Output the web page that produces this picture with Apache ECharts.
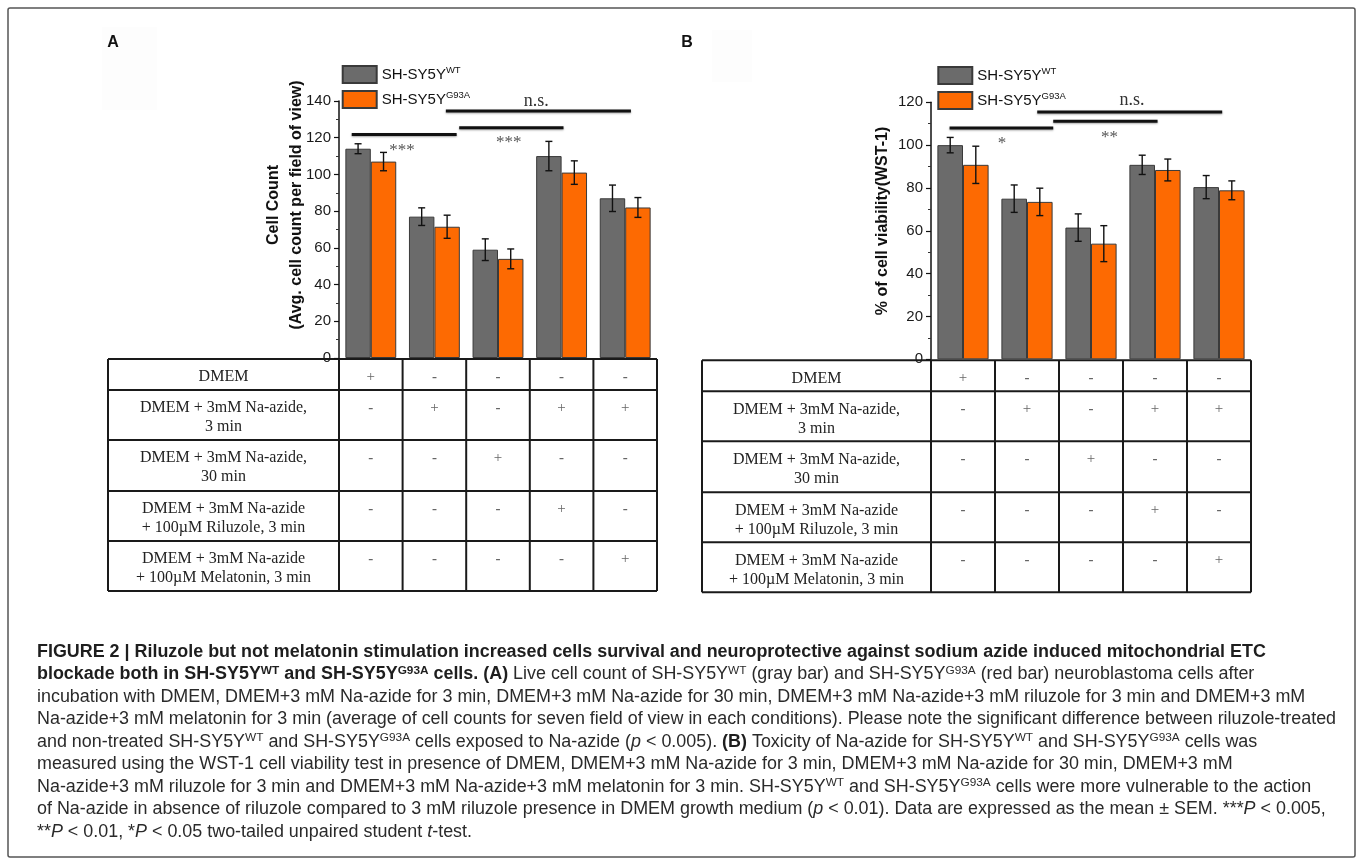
<!DOCTYPE html>
<html><head><meta charset="utf-8">
<script src="https://cdn.jsdelivr.net/npm/echarts@6.0.0/dist/echarts.min.js"></script>
<style>html,body{margin:0;padding:0;background:#fff}#c{width:1357px;height:866px}</style>
</head><body><div id="c"></div>
<script>
// ---------- data ----------
const categories = ['DMEM', 'Na-azide 3 min', 'Na-azide 30 min', 'Na-azide + Riluzole', 'Na-azide + Melatonin'];
const seriesNames = ['SH-SY5Y WT', 'SH-SY5Y G93A'];
const seriesSup = ['WT', 'G93A'];
const cellCountWT = [114, 77, 59, 110, 87];
const cellCountWTErr = [2.7, 4.8, 5.9, 8, 7.2];
const cellCountG93A = [107, 71.5, 54, 101, 82];
const cellCountG93AErr = [5, 6.3, 5.4, 6.4, 5.4];
const viabilityWT = [100, 75, 61.5, 90.8, 80.4];
const viabilityWTErr = [3.6, 6.4, 6.4, 4.5, 5.4];
const viabilityG93A = [90.8, 73.5, 54, 88.4, 78.9];
const viabilityG93AErr = [8.7, 6.4, 8.4, 5.1, 4.4];
const yTicksA = [0, 20, 40, 60, 80, 100, 120, 140];
const yTicksB = [0, 20, 40, 60, 80, 100, 120];
// significance bars: [xStart, xEnd, y] in category units / axis units
const sigLinesA = [[-0.30, 1.35, 121.8], [1.39, 3.03, 125.4], [1.18, 4.09, 134.5]];
const sigLabelsA = [[0.49, 115, '***'], [2.17, 119.3, '***'], [2.6, 140, 'n.s.']];
const sigLinesB = [[-0.21, 1.41, 108], [1.41, 3.04, 111.1], [1.16, 4.05, 115.5]];
const sigLabelsB = [[0.61, 102.8, '*'], [2.29, 105.2, '**'], [2.64, 120.8, 'n.s.']];
// condition table
const tableRows = ['DMEM', 'DMEM + 3mM Na-azide,\n3 min', 'DMEM + 3mM Na-azide,\n30 min',
  'DMEM + 3mM Na-azide\n+ 100\u00b5M Riluzole, 3 min', 'DMEM + 3mM Na-azide\n+ 100\u00b5M Melatonin, 3 min'];
const tableMarks = [
  ['+', '-', '-', '-', '-'],
  ['-', '+', '-', '+', '+'],
  ['-', '-', '+', '-', '-'],
  ['-', '-', '-', '+', '-'],
  ['-', '-', '-', '-', '+']
];
const captionLines = [
  '{b|FIGURE 2 | Riluzole but not melatonin stimulation increased cells survival and neuroprotective against sodium azide induced mitochondrial ETC}',
  '{b|blockade both in SH-SY5Y}{bs|WT}{b| and SH-SY5Y}{bs|G93A}{b| cells. (A)}{n| Live cell count of SH-SY5Y}{s|WT}{n| (gray bar) and SH-SY5Y}{s|G93A}{n| (red bar) neuroblastoma cells after}',
  '{n|incubation with DMEM, DMEM+3 mM Na-azide for 3 min, DMEM+3 mM Na-azide for 30 min, DMEM+3 mM Na-azide+3 mM riluzole for 3 min and DMEM+3 mM}',
  '{n|Na-azide+3 mM melatonin for 3 min (average of cell counts for seven field of view in each conditions). Please note the significant difference between riluzole-treated}',
  '{n|and non-treated SH-SY5Y}{s|WT}{n| and SH-SY5Y}{s|G93A}{n| cells exposed to Na-azide (}{i|p}{n| < 0.005). }{b|(B)}{n| Toxicity of Na-azide for SH-SY5Y}{s|WT}{n| and SH-SY5Y}{s|G93A}{n| cells was}',
  '{n|measured using the WST-1 cell viability test in presence of DMEM, DMEM+3 mM Na-azide for 3 min, DMEM+3 mM Na-azide for 30 min, DMEM+3 mM}',
  '{n|Na-azide+3 mM riluzole for 3 min and DMEM+3 mM Na-azide+3 mM melatonin for 3 min. SH-SY5Y}{s|WT}{n| and SH-SY5Y}{s|G93A}{n| cells were more vulnerable to the action}',
  '{n|of Na-azide in absence of riluzole compared to 3 mM riluzole presence in DMEM growth medium (}{i|p}{n| < 0.01). Data are expressed as the mean \u00b1 SEM. ***}{i|P}{n| < 0.005,}',
  '{n|**}{i|P}{n| < 0.01, *}{i|P}{n| < 0.05 two-tailed unpaired student }{i|t}{n|-test.}'
];

// ---------- layout ----------
const SANS = '"Liberation Sans", Arial, Helvetica, sans-serif';
const SERIF = '"Liberation Serif", "Times New Roman", serif';
const gridA = {left: 339, top: 101, width: 318, height: 257};
const gridB = {left: 931, top: 102.3, width: 320, height: 257};
const GRAY = '#6b6b6b', ORANGE = '#fd6a02';

const cv = document.createElement('canvas').getContext('2d');
cv.font = '100px ' + SANS;
const plainL4 = captionLines[3].replace(/\{[a-z]+\||\}/g, '');
const CAPF = Math.max(12, Math.min(18.5, 100 * 1300 / cv.measureText(plainL4).width));

function errorSeries(xi, yi, vals, errs, side) {
  return {
    type: 'custom', xAxisIndex: xi, yAxisIndex: yi, z: 5, silent: true, clip: false,
    data: vals.map((v, i) => [i, v, errs[i]]),
    renderItem(params, api) {
      const i = api.value(0), v = api.value(1), e = api.value(2);
      const band = api.size([1, 0])[0];
      const c = api.coord([i, v]);
      const x = c[0] + side * band * 0.2;
      const yt = api.coord([i, v + e])[1], yb = api.coord([i, v - e])[1];
      const cap = 3.5, st = {stroke: '#111', lineWidth: 1.4};
      return {type: 'group', children: [
        {type: 'line', shape: {x1: x, y1: yt, x2: x, y2: yb}, style: st},
        {type: 'line', shape: {x1: x - cap, y1: yt, x2: x + cap, y2: yt}, style: st},
        {type: 'line', shape: {x1: x - cap, y1: yb, x2: x + cap, y2: yb}, style: st}
      ]};
    }
  };
}
function sigLineSeries(xi, yi, lines) {
  return {
    type: 'custom', xAxisIndex: xi, yAxisIndex: yi, z: 6, silent: true, clip: false,
    data: lines,
    renderItem(params, api) {
      const a = api.coord([api.value(0), api.value(2)]);
      const b = api.coord([api.value(1), api.value(2)]);
      return {type: 'line', shape: {x1: a[0], y1: a[1], x2: b[0], y2: b[1]},
        style: {stroke: '#111', lineWidth: 3, shadowBlur: 2, shadowColor: 'rgba(0,0,0,0.35)', shadowOffsetY: 1}};
    }
  };
}
function sigLabelSeries(xi, yi, labels) {
  return {
    type: 'custom', xAxisIndex: xi, yAxisIndex: yi, z: 6, silent: true, clip: false,
    data: labels.map(l => [l[0], l[1], l[2]]),
    dimensions: ['x', 'y', {name: 't', type: 'ordinal'}],
    renderItem(params, api) {
      const l = labels[params.dataIndex];
      const p = api.coord([l[0], l[1]]);
      const star = l[2].indexOf('*') >= 0;
      return {type: 'text', style: {
        text: l[2], x: p[0], y: p[1] + (star ? 4 : 0), align: 'center', verticalAlign: 'middle',
        font: (star ? '17px ' : '18px ') + SERIF, fill: star ? '#555' : '#333'}};
    }
  };
}
function yAxis(gi, ticks) {
  return {
    type: 'value', gridIndex: gi, min: ticks[0], max: ticks[ticks.length - 1],
    interval: ticks[1] - ticks[0],
    axisLine: {show: true, onZero: false, lineStyle: {color: '#111', width: 1.5}},
    axisTick: {show: true, inside: false, length: 5, lineStyle: {color: '#111', width: 1.2}},
    minorTick: {show: true, splitNumber: 2, length: 3, lineStyle: {color: '#333', width: 1}},
    splitLine: {show: false},
    axisLabel: {fontFamily: SANS, fontSize: 15, color: '#1a1a1a', margin: 8}
  };
}
function catAxis(gi) {
  return {type: 'category', gridIndex: gi, data: categories, boundaryGap: true,
    axisLine: {show: false, onZero: false}, axisTick: {show: false}, axisLabel: {show: false}};
}
function valXAxis(gi) {
  return {type: 'value', gridIndex: gi, min: -0.5, max: 4.5, show: false,
    axisLine: {onZero: false}};
}
function barSeries(xi, yi, name, data, color) {
  return {type: 'bar', name: name, xAxisIndex: xi, yAxisIndex: yi, data: data,
    barGap: '0%', barCategoryGap: '20%', silent: true,
    itemStyle: {color: color, borderColor: '#3a3a3a', borderWidth: 1}};
}
function legend(left, top) {
  return {
    left: left, top: top, orient: 'vertical', padding: 0, itemWidth: 34, itemHeight: 17, itemGap: 6,
    selectedMode: false, icon: 'rect', data: seriesNames,
    formatter: n => '{m|SH-SY5Y}{s|' + seriesSup[seriesNames.indexOf(n)] + '}',
    textStyle: {rich: {
      m: {fontFamily: SANS, fontSize: 15, color: '#111', lineHeight: 18},
      s: {fontFamily: SANS, fontSize: 9.5, color: '#111', lineHeight: 9, verticalAlign: 'top'}
    }}
  };
}
function tableElements(g, labelLeft, top) {
  const els = [];
  const rowOff = [0, 31, 81, 132, 182, 232];
  const band = g.width / 5, right = g.left + g.width;
  const ls = {stroke: '#1a1a1a', lineWidth: 2};
  rowOff.forEach(o => els.push({type: 'line', shape: {x1: labelLeft, y1: top + o, x2: right, y2: top + o}, style: ls}));
  const bottom = top + rowOff[rowOff.length - 1];
  els.push({type: 'line', shape: {x1: labelLeft, y1: top, x2: labelLeft, y2: bottom}, style: ls});
  for (let i = 0; i <= 5; i++) {
    const x = g.left + i * band;
    els.push({type: 'line', shape: {x1: x, y1: top, x2: x, y2: bottom}, style: ls});
  }
  tableRows.forEach((label, r) => {
    const rt = top + rowOff[r];
    els.push({type: 'text', style: {text: label, x: (labelLeft + g.left) / 2, y: rt + 8.5,
      align: 'center', verticalAlign: 'top', lineHeight: 19, font: '16px ' + SERIF, fill: '#222'}});
    tableMarks[r].forEach((m, c) => els.push({type: 'text', style: {text: m, x: g.left + (c + 0.5) * band,
      y: rt + 18, align: 'center', verticalAlign: 'middle', font: (m === '+' ? '15px ' : 'bold 15px ') + SERIF, fill: '#666'}}));
  });
  return els;
}

const capRich = {
  b: {fontFamily: SANS, fontSize: CAPF, fontWeight: 'bold', fill: '#1e1e1e', lineHeight: 20},
  bs: {fontFamily: SANS, fontSize: CAPF * 0.66, fontWeight: 'bold', fill: '#1e1e1e', lineHeight: 11, verticalAlign: 'top'},
  n: {fontFamily: SANS, fontSize: CAPF, fill: '#2a2a2a', lineHeight: 20},
  s: {fontFamily: SANS, fontSize: CAPF * 0.66, fill: '#2a2a2a', lineHeight: 11, verticalAlign: 'top'},
  i: {fontFamily: SANS, fontSize: CAPF, fontStyle: 'italic', fill: '#2a2a2a', lineHeight: 20}
};

const graphics = [
  {type: 'rect', shape: {x: 8, y: 8, width: 1347, height: 849, r: 2}, style: {fill: 'none', stroke: '#555', lineWidth: 1.5}, z: 0},
  {type: 'rect', shape: {x: 102, y: 27, width: 55, height: 83}, style: {fill: '#fdfdfd'}, z: 0},
  {type: 'rect', shape: {x: 712, y: 30, width: 40, height: 52}, style: {fill: '#fdfdfd'}, z: 0},
  {type: 'text', style: {text: 'A', x: 113, y: 43, align: 'center', verticalAlign: 'middle', font: 'bold 16px ' + SANS, fill: '#111'}},
  {type: 'text', style: {text: 'B', x: 687, y: 43, align: 'center', verticalAlign: 'middle', font: 'bold 16px ' + SANS, fill: '#111'}},
  {type: 'text', x: 285.5, y: 205, rotation: Math.PI / 2, style: {text: 'Cell Count\n(Avg. cell count per field of view)',
    x: 0, y: 0, align: 'center', verticalAlign: 'middle', lineHeight: 23, font: 'bold 16px ' + SANS, fill: '#111'}},
  {type: 'text', x: 882.7, y: 221, rotation: Math.PI / 2, style: {text: '% of cell viability(WST-1)',
    x: 0, y: 0, align: 'center', verticalAlign: 'middle', font: 'bold 16px ' + SANS, fill: '#111'}}
].concat(tableElements(gridA, 108, gridA.top + gridA.height + 1))
 .concat(tableElements(gridB, 702, gridB.top + gridB.height + 1))
 .concat(captionLines.map((t, k) => ({type: 'text', style: {text: t, x: 37, y: 652 + 22.5 * k,
   align: 'left', verticalAlign: 'middle', rich: capRich, font: CAPF + 'px ' + SANS, fill: '#222'}})));

const chart = echarts.init(document.getElementById('c'), null, {renderer: 'canvas'});
chart.setOption({
  animation: false,
  backgroundColor: '#fff',
  grid: [Object.assign({}, gridA), Object.assign({}, gridB)],
  xAxis: [catAxis(0), catAxis(1), valXAxis(0), valXAxis(1)],
  yAxis: [yAxis(0, yTicksA), yAxis(1, yTicksB)],
  legend: [legend(341.7, 65), legend(937.3, 66)],
  series: [
    barSeries(0, 0, seriesNames[0], cellCountWT, GRAY),
    barSeries(0, 0, seriesNames[1], cellCountG93A, ORANGE),
    errorSeries(0, 0, cellCountWT, cellCountWTErr, -1),
    errorSeries(0, 0, cellCountG93A, cellCountG93AErr, 1),
    sigLineSeries(2, 0, sigLinesA),
    sigLabelSeries(2, 0, sigLabelsA),
    barSeries(1, 1, seriesNames[0], viabilityWT, GRAY),
    barSeries(1, 1, seriesNames[1], viabilityG93A, ORANGE),
    errorSeries(1, 1, viabilityWT, viabilityWTErr, -1),
    errorSeries(1, 1, viabilityG93A, viabilityG93AErr, 1),
    sigLineSeries(3, 1, sigLinesB),
    sigLabelSeries(3, 1, sigLabelsB)
  ],
  graphic: {elements: graphics}
});
</script></body></html>
